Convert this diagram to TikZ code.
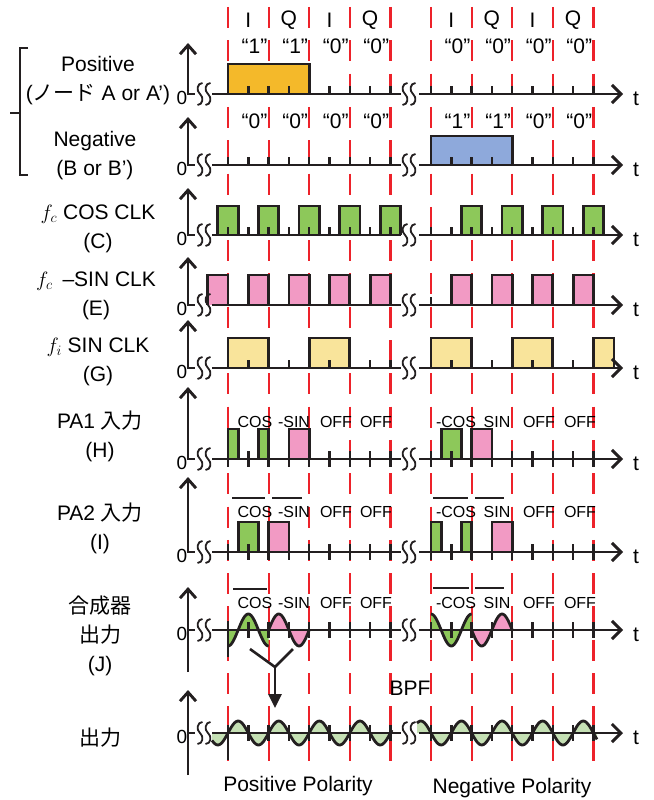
\documentclass[tikz,border=0pt]{standalone}
\usepackage{fontspec}
\setmainfont{Liberation Sans}
\newfontfamily\jpfont{Noto Sans CJK JP}
\usepackage{xcolor}
\definecolor{sigRed}{RGB}{237, 34, 42}
\definecolor{sigInk}{RGB}{35, 31, 32}
\definecolor{sigOrange}{RGB}{244, 185, 42}
\definecolor{sigBlue}{RGB}{142, 169, 219}
\definecolor{sigGreen}{RGB}{141, 200, 90}
\definecolor{sigPink}{RGB}{242, 154, 196}
\definecolor{sigCream}{RGB}{249, 228, 155}
\definecolor{sigMint}{RGB}{197, 224, 180}
\usepackage{tikz}
\usetikzlibrary{
    arrows.meta,
    positioning,
    calc
}

\begin{document}
\begin{tikzpicture}[
    x=1pt, y=-1pt,
    symLine/.style={draw=sigRed, line width=2.2pt, dash pattern=on 21pt off 12.3pt},
    axisLine/.style={draw=sigInk, line width=2.9pt},
    upAxis/.style={axisLine, -{Straight Barb[length=9pt, width=16pt]}},
    timeAxis/.style={axisLine, -{Straight Barb[length=9pt, width=18pt]}},
    tickMark/.style={draw=sigInk, line width=2.4pt},
    breakMark/.style={draw=sigInk, line width=1.8pt},
    pulseBox/.style={draw=sigInk, line width=2.8pt},
    waveLine/.style={draw=sigInk, line width=2.8pt, smooth},
    barLine/.style={draw=sigInk, line width=2.6pt},
    braceLine/.style={draw=sigInk, line width=2.2pt},
    mergeArrow/.style={draw=sigInk, line width=2.6pt, -{Triangle[length=14pt, width=13pt]}},
    rowLabel/.style={font=\fontsize{21}{29}\selectfont, align=center, inner sep=0pt},
    symLabel/.style={font=\fontsize{21}{21}\selectfont, inner sep=0pt},
    stateLabel/.style={font=\fontsize{16}{16}\selectfont, inner sep=0pt},
    zeroLabel/.style={font=\fontsize{19}{19}\selectfont, inner sep=0pt}
]
    \useasboundingbox (0,0) rectangle (653,800);

    % Symbol boundaries
    \foreach \k in {0,...,4} {
        \draw[symLine] ({228+40.6*\k},7) -- ({228+40.6*\k},762);
        \draw[symLine] ({431+40.6*\k},7) -- ({431+40.6*\k},762);
    }

    % I/Q slots and data bits
    \foreach \s [count=\i from 0] in {I,Q,I,Q} {
        \node[symLabel] (slotL\i) at ({248.3+40.6*\i},20) {\s};
        \node[symLabel] (slotR\i) at ({451.3+40.6*\i},20) {\s};
    }
    \foreach \pa/\pb/\na/\nb [count=\i from 0] in {1/0/0/1, 1/0/0/1, 0/0/0/0, 0/0/0/0} {
        \node[symLabel] (bitPL\i) at ({254.5+40.6*\i},46) {“\pa”};
        \node[symLabel] (bitPR\i) at ({457.5+40.6*\i},46) {“\pb”};
        \node[symLabel] (bitNL\i) at ({254.5+40.6*\i},121) {“\na”};
        \node[symLabel] (bitNR\i) at ({457.5+40.6*\i},121) {“\nb”};
    }

    % Data pulses (A, B)
    \path[pulseBox, fill=sigOrange] (228,94) -- (228,64) -- (309.2,64) -- (309.2,94);
    \path[pulseBox, fill=sigBlue] (431,165) -- (431,136) -- (512.2,136) -- (512.2,165);

    % Clock pulses (C, E, G)
    \foreach \b in {228,268.6,309.2,349.8,390.4,471.6,512.2,552.8,593.4} {
        \path[pulseBox, fill=sigGreen] ({\b-10.15},235) -- ++(0,-29) -- ++(20.3,0) -- ++(0,29);
        \path[pulseBox, fill=sigPink] ({\b-20.3},305) -- ++(0,-30) -- ++(20.3,0) -- ++(0,30);
    }
    \foreach \xa/\w in {228/40.6, 309.2/40.6, 431/40.6, 512.2/40.6, 593.4/20.6}
        \path[pulseBox, fill=sigCream] (\xa,368) -- ++(0,-30) -- ++(\w,0) -- ++(0,30);

    % PA inputs (H, I)
    \foreach \xa/\xb/\col/\ya in {228/238.15/sigGreen/459, 258.45/268.6/sigGreen/459,
        288.9/309.2/sigPink/459, 441.15/461.45/sigGreen/459, 471.6/491.9/sigPink/459,
        238.15/258.45/sigGreen/552, 268.6/288.9/sigPink/552, 431/441.15/sigGreen/552,
        461.45/471.6/sigGreen/552, 491.9/512.2/sigPink/552}
        \path[pulseBox, fill=\col] (\xa,\ya) -- (\xa,{\ya-30}) -- (\xb,{\ya-30}) -- (\xb,\ya);

    % Wave fills (J, output)
    \fill[sigGreen] (228,630) -- plot[domain=228:268.6, samples=40] (\x,{630+16*cos(8.867*(\x-228))}) -- (268.6,630) -- cycle;
    \fill[sigPink] (268.6,630) -- plot[domain=268.6:309.2, samples=40] (\x,{630-16*sin(8.867*(\x-268.6))}) -- (309.2,630) -- cycle;
    \fill[sigGreen] (431,630) -- plot[domain=431:471.6, samples=40] (\x,{630-16*cos(8.867*(\x-431))}) -- (471.6,630) -- cycle;
    \fill[sigPink] (471.6,630) -- plot[domain=471.6:512.2, samples=40] (\x,{630+16*sin(8.867*(\x-471.6))}) -- (512.2,630) -- cycle;
    \fill[sigMint] (212,733) -- plot[domain=212:392, samples=120] (\x,{733-12*sin(8.867*(\x-228))}) -- (392,733) -- cycle;
    \fill[sigMint] (417,733) -- plot[domain=417:597, samples=120] (\x,{733+12*sin(8.867*(\x-431))}) -- (597,733) -- cycle;

    % Time axes
    \foreach \ya/\yt/\yb [count=\r] in {94/43/95, 165/117/166, 235/188/236, 305/257/306, 368/320/369,
        459/387/460, 552/477/553, 630/587/672, 733/690/775} {
        \draw[upAxis] (188,\yb) -- (188,\yt);
        \draw[axisLine] (186.6,\ya) -- (195,\ya);
        \draw[axisLine] (212,\ya) -- (401,\ya);
        \draw[timeAxis] (419,\ya) -- (623,\ya);
        \foreach \bx in {200,208,405,413}
            \draw[breakMark] ({\bx+2.5},{\ya-11}) .. controls ({\bx-3},{\ya-11}) and ({\bx-4},{\ya-3}) .. (\bx,\ya)
                .. controls ({\bx+4},{\ya+3}) and ({\bx+3},{\ya+11}) .. ({\bx-2.5},{\ya+11});
        \node[zeroLabel] (zero\r) at (182,{\ya+4}) {0};
        \node[symLabel] (tLab\r) at (636,{\ya+5}) {t};
    }

    % Half-symbol ticks
    \foreach \ya in {94,165,235,305,368}
        \foreach \k in {0,...,8} {
            \draw[tickMark] ({228+20.3*\k},\ya) -- ++(0,-8);
            \draw[tickMark] ({431+20.3*\k},\ya) -- ++(0,-8);
        }
    \foreach \ya in {459,552,630,733}
        \foreach \k in {0,...,8} {
            \draw[tickMark] ({228+20.3*\k},{\ya-8}) -- ++(0,16);
            \draw[tickMark] ({431+20.3*\k},{\ya-8}) -- ++(0,16);
        }
    \draw[tickMark] (228,621) -- (228,657);
    \draw[tickMark] (228,725) -- (228,760);

    % Wave outlines
    \draw[waveLine] plot[domain=228:268.6, samples=40] (\x,{630+16*cos(8.867*(\x-228))});
    \draw[waveLine] plot[domain=268.6:309.2, samples=40] (\x,{630-16*sin(8.867*(\x-268.6))});
    \draw[waveLine] plot[domain=431:471.6, samples=40] (\x,{630-16*cos(8.867*(\x-431))});
    \draw[waveLine] plot[domain=471.6:512.2, samples=40] (\x,{630+16*sin(8.867*(\x-471.6))});
    \draw[waveLine] plot[domain=212:392, samples=120] (\x,{733-12*sin(8.867*(\x-228))});
    \draw[waveLine] plot[domain=417:597, samples=120] (\x,{733+12*sin(8.867*(\x-431))});

    % Gate states
    \foreach \ya/\r in {422/H, 512/I, 603/J} {
        \node[stateLabel] (cos\r) at (255,\ya) {COS};
        \node[stateLabel] (msin\r) at (294,\ya) {-SIN};
        \node[stateLabel] (offA\r) at (336,\ya) {OFF};
        \node[stateLabel] (offB\r) at (376,\ya) {OFF};
        \node[stateLabel] (mcos\r) at (456,\ya) {-COS};
        \node[stateLabel] (sin\r) at (497,\ya) {SIN};
        \node[stateLabel] (offC\r) at (539,\ya) {OFF};
        \node[stateLabel] (offD\r) at (580,\ya) {OFF};
    }
    \draw[barLine] (232,498) -- (265,498);
    \draw[barLine] (272,498) -- (302,498);
    \draw[barLine] (433,498) -- (468,498);
    \draw[barLine] (475,498) -- (504,498);
    \draw[barLine] (233,589) -- (267,589);
    \draw[barLine] (433,588) -- (469,588);
    \draw[barLine] (475,588) -- (504,588);

    % BPF merge
    \coordinate (mergeL) at (250,649);
    \coordinate (mergeR) at (293,649);
    \coordinate (mergeJ) at (275,667);
    \coordinate (mergeTip) at (275,708);
    \draw[barLine] (mergeL) -- (mergeJ) -- (mergeR);
    \draw[mergeArrow] (mergeJ) -- (mergeTip);
    \node[symLabel] (bpf) at (410,688) {BPF};

    % Row titles
    \draw[braceLine] (28,48) -- (20,48) -- (20,175) -- (28,175);
    \draw[braceLine] (10,113) -- (20,113);
    \node[rowLabel] (lblA) at (98,81) {Positive\\({\jpfont ノード} A or A’)};
    \node[rowLabel] (lblB) at (95,156) {Negative\\(B or B’)};
    \node[rowLabel] (lblC) at (98,229) {$f_c$ COS CLK\\(C)};
    \node[rowLabel] (lblE) at (96,296) {$f_c$\hspace{4pt} –SIN CLK\\(E)};
    \node[rowLabel] (lblG) at (98,362) {$f_i$ SIN CLK\\(G)};
    \node[rowLabel] (lblH) at (100,436) {PA1 {\jpfont 入力}\\(H)};
    \node[rowLabel] (lblI) at (100,528) {PA2 {\jpfont 入力}\\(I)};
    \node[rowLabel] (lblJ) at (100,636) {{\jpfont 合成器}\\{\jpfont 出力}\\(J)};
    \node[rowLabel] (lblOut) at (100,738) {{\jpfont 出力}};

    % Polarity captions
    \node[rowLabel] (capPos) at (298,786) {Positive Polarity};
    \node[rowLabel] (capNeg) at (512,788) {Negative Polarity};

\end{tikzpicture}
\end{document}
